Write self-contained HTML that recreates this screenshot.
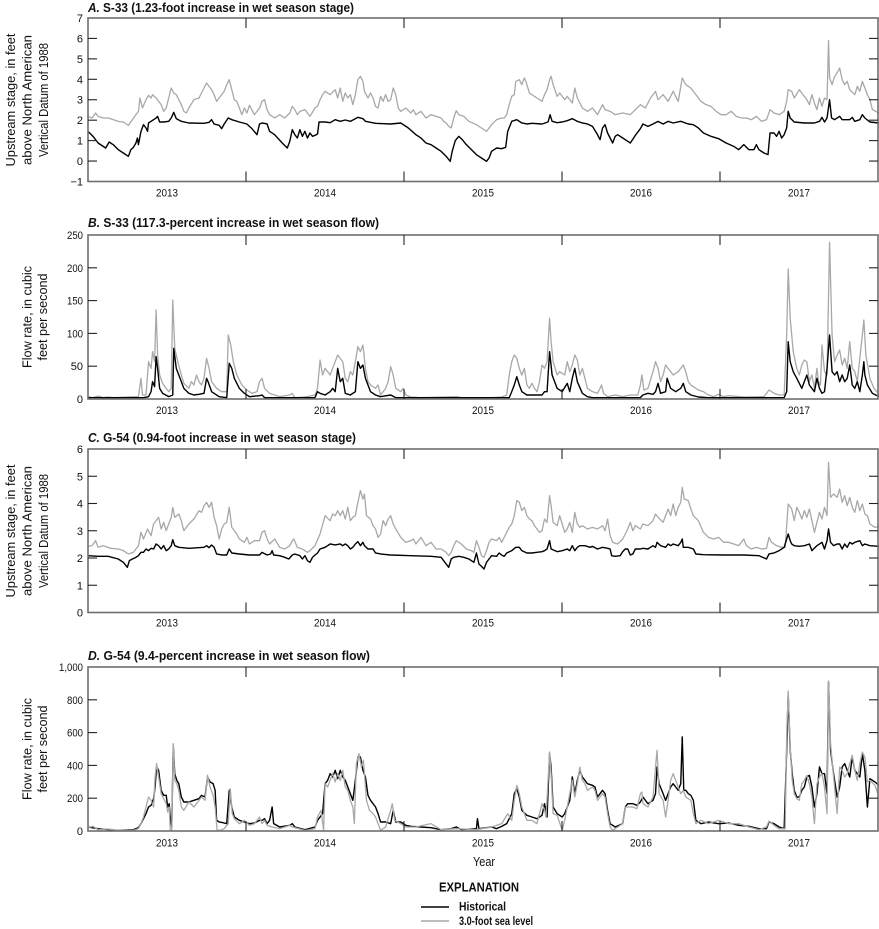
<!DOCTYPE html>
<html><head><meta charset="utf-8"><style>
html,body{margin:0;padding:0;background:#fff;}
svg{display:block;}
text{font-family:"Liberation Sans Narrow","Liberation Sans",sans-serif;fill:#111;}
.t{font-weight:bold;font-size:12.5px;}
.tk{font-size:11px;}
.ax{font-size:12.5px;}
.frame{fill:none;stroke:#6e6e6e;stroke-width:1.6;}
.tick{stroke:#222;stroke-width:1.1;}
.bl{fill:none;stroke:#000;stroke-width:1.4;stroke-linejoin:round;}
.gr{fill:none;stroke:#a8a8a8;stroke-width:1.3;stroke-linejoin:round;}
</style></head><body>
<svg width="879" height="929" viewBox="0 0 879 929" xmlns="http://www.w3.org/2000/svg">
<rect width="879" height="929" fill="#fff"/>

<!-- ===== Panel A ===== -->
<text class="t" x="88" y="12" textLength="266" lengthAdjust="spacingAndGlyphs"><tspan font-style="italic">A.</tspan> S-33 (1.23-foot increase in wet season stage)</text>
<g transform="translate(88,18) scale(0.50446,0.33333)">
<polyline class="gr" vector-effect="non-scaling-stroke" points="0,295 8,300 15,285 20,295 30,300 40,300 50,305 60,310 70,312 80,322 88,305 95,290 100,280 103,240 108,270 115,245 120,232 125,240 128,230 135,240 140,250 145,260 150,280 155,270 160,240 165,210 170,225 175,230 180,245 185,260 190,280 195,285 200,270 210,245 220,240 230,210 235,195 240,205 245,215 250,230 255,250 260,240 270,220 275,200 280,185 285,215 290,245 295,250 300,270 305,290 310,270 315,285 320,262 330,290 340,270 345,250 350,245 355,275 360,290 370,300 380,290 390,300 400,285 405,265 410,275 415,290 420,280 430,275 440,295 450,270 455,265 460,245 465,230 470,220 480,230 490,215 495,240 500,210 505,250 510,225 515,240 520,230 525,260 530,230 535,185 540,175 545,190 548,220 555,240 560,225 565,240 570,265 575,270 580,235 585,250 590,230 595,250 600,245 605,210 610,230 615,270 620,280 630,270 640,285 645,275 650,290 660,280 670,300 680,290 690,295 700,300 705,310 710,315 715,325 720,330 725,300 730,278 735,290 745,295 755,310 770,320 780,330 790,340 800,320 810,305 820,300 825,300 830,290 835,260 840,235 845,230 848,190 855,185 860,200 865,180 868,190 872,210 875,225 880,230 890,240 900,250 905,230 910,215 915,185 918,175 922,200 930,235 935,225 945,245 950,235 960,255 965,210 970,240 980,270 990,280 1000,270 1010,290 1020,260 1025,275 1035,280 1045,290 1060,285 1075,290 1085,275 1095,260 1105,270 1115,240 1125,220 1130,245 1140,230 1150,250 1160,220 1170,250 1178,180 1185,200 1195,210 1205,230 1215,250 1225,260 1235,265 1245,280 1255,290 1265,290 1275,280 1285,295 1295,300 1305,300 1315,305 1325,295 1335,310 1345,305 1352,275 1360,285 1370,290 1380,280 1385,250 1388,215 1395,220 1400,240 1410,215 1420,235 1425,245 1430,260 1435,230 1440,255 1445,275 1450,240 1455,265 1460,240 1465,245 1468,68 1470,180 1475,200 1480,175 1485,165 1490,150 1495,185 1500,200 1505,190 1510,215 1520,230 1525,205 1530,220 1535,190 1540,210 1545,230 1550,245 1555,275 1568,285"/>
<polyline class="bl" vector-effect="non-scaling-stroke" points="0,340 10,355 20,375 35,390 42,372 50,380 60,395 70,405 80,415 85,395 90,388 95,375 98,360 100,380 105,340 110,320 115,330 118,340 120,315 125,310 130,305 135,300 138,295 142,312 150,312 160,310 165,300 170,283 175,302 185,310 200,315 230,316 240,313 245,305 250,318 260,322 265,332 270,318 278,300 285,305 300,312 315,318 325,332 335,350 340,318 345,315 355,318 360,340 370,350 385,375 395,390 400,370 405,335 410,350 415,360 420,335 425,355 430,340 435,360 440,345 445,355 450,352 455,348 458,312 470,312 480,314 490,305 500,310 510,306 520,310 535,298 545,302 550,310 570,316 600,318 620,315 635,330 650,350 660,360 670,375 680,380 690,390 700,400 710,415 718,430 722,400 728,368 735,355 742,365 750,380 760,395 770,410 780,420 790,430 795,420 800,400 810,390 820,392 828,388 832,340 840,310 850,305 860,315 870,318 880,316 900,318 912,312 916,290 920,310 930,314 940,312 950,308 960,302 970,310 980,315 990,318 1000,325 1010,350 1015,365 1020,330 1025,320 1030,345 1040,375 1045,355 1050,350 1060,360 1070,370 1075,375 1085,352 1095,332 1100,318 1110,325 1120,318 1130,310 1140,318 1150,310 1160,315 1175,310 1190,318 1200,320 1210,330 1220,345 1235,355 1250,362 1265,375 1280,385 1290,395 1300,380 1310,395 1320,395 1325,380 1330,395 1340,405 1348,410 1352,345 1360,345 1365,355 1370,340 1375,360 1380,350 1385,330 1388,280 1392,300 1400,312 1420,315 1440,315 1450,310 1455,298 1460,312 1465,300 1470,245 1474,300 1480,305 1490,295 1495,305 1510,305 1515,298 1520,310 1530,305 1535,290 1540,300 1550,312 1568,315"/>
</g>
<rect class="frame" x="88" y="18" width="790" height="163.5"/>
<g class="tick">
<line x1="88" y1="161.06" x2="97" y2="161.06"/><line x1="88" y1="140.62" x2="97" y2="140.62"/><line x1="88" y1="120.18" x2="97" y2="120.18"/><line x1="88" y1="99.74" x2="97" y2="99.74"/><line x1="88" y1="79.3" x2="97" y2="79.3"/><line x1="88" y1="58.86" x2="97" y2="58.86"/><line x1="88" y1="38.42" x2="97" y2="38.42"/>
<line x1="869" y1="161.06" x2="878" y2="161.06"/><line x1="869" y1="140.62" x2="878" y2="140.62"/><line x1="869" y1="120.18" x2="878" y2="120.18"/><line x1="869" y1="99.74" x2="878" y2="99.74"/><line x1="869" y1="79.3" x2="878" y2="79.3"/><line x1="869" y1="58.86" x2="878" y2="58.86"/><line x1="869" y1="38.42" x2="878" y2="38.42"/>
<line x1="246" y1="18" x2="246" y2="28"/><line x1="404" y1="18" x2="404" y2="28"/><line x1="562" y1="18" x2="562" y2="28"/><line x1="720" y1="18" x2="720" y2="28"/>
<line x1="246" y1="171.5" x2="246" y2="181.5"/><line x1="404" y1="171.5" x2="404" y2="181.5"/><line x1="562" y1="171.5" x2="562" y2="181.5"/><line x1="720" y1="171.5" x2="720" y2="181.5"/>
</g>
<g class="tk" text-anchor="end">
<text x="83" y="185.5">−1</text><text x="83" y="165">0</text><text x="83" y="144.6">1</text><text x="83" y="124.2">2</text><text x="83" y="103.7">3</text><text x="83" y="83.3">4</text><text x="83" y="62.9">5</text><text x="83" y="42.4">6</text><text x="83" y="22">7</text>
</g>
<g class="tk" text-anchor="middle">
<text x="167" y="196.5" textLength="22" lengthAdjust="spacingAndGlyphs">2013</text><text x="325" y="196.5" textLength="22" lengthAdjust="spacingAndGlyphs">2014</text><text x="483" y="196.5" textLength="22" lengthAdjust="spacingAndGlyphs">2015</text><text x="641" y="196.5" textLength="22" lengthAdjust="spacingAndGlyphs">2016</text><text x="799" y="196.5" textLength="22" lengthAdjust="spacingAndGlyphs">2017</text>
</g>
<g class="ax" text-anchor="middle">
<text transform="translate(15,100) rotate(-90)" textLength="133" lengthAdjust="spacingAndGlyphs">Upstream stage, in feet</text>
<text transform="translate(31.5,100) rotate(-90)" textLength="130" lengthAdjust="spacingAndGlyphs">above North American</text>
<text transform="translate(48,100) rotate(-90)" textLength="114" lengthAdjust="spacingAndGlyphs">Vertical Datum of 1988</text>
</g>

<!-- ===== Panel B ===== -->
<text class="t" x="88" y="227" textLength="291" lengthAdjust="spacingAndGlyphs"><tspan font-style="italic">B.</tspan> S-33 (117.3-percent increase in wet season flow)</text>
<g transform="translate(88,235) scale(0.50446,0.33333)">
<polyline class="gr" vector-effect="non-scaling-stroke" points="0,485 10,488 20,483 30,488 40,486 50,488 80,486 100,485 105,430 108,480 115,480 120,380 125,400 128,350 132,380 135,225 138,360 142,420 148,445 155,460 160,470 165,460 168,195 172,340 178,380 185,420 190,445 200,460 205,440 210,450 215,420 220,440 225,450 230,430 235,370 240,400 245,440 255,460 265,470 275,470 278,300 283,330 288,380 295,420 305,450 315,465 325,475 335,470 340,440 345,430 350,460 360,475 380,485 400,480 405,475 410,488 430,486 440,483 450,480 455,460 460,375 465,420 470,400 475,410 480,420 485,400 490,380 495,360 500,370 505,380 510,430 515,440 520,410 525,420 530,380 535,335 540,350 545,330 550,400 555,440 560,450 570,460 575,450 580,480 585,470 590,460 595,440 600,395 605,420 610,460 620,470 625,460 630,480 640,486 660,488 730,485 740,488 800,488 820,486 830,480 835,420 840,380 845,360 850,370 855,400 860,420 865,400 870,450 875,460 880,445 885,460 890,470 895,440 900,390 905,400 910,380 915,250 918,320 922,380 930,420 935,410 945,420 950,380 955,410 960,390 965,360 970,375 975,420 980,400 985,430 990,460 1000,470 1010,475 1015,460 1018,450 1022,475 1030,485 1045,480 1060,485 1075,480 1090,480 1095,450 1098,420 1102,465 1110,460 1115,435 1120,410 1125,380 1130,400 1135,440 1140,420 1145,390 1150,400 1155,410 1160,420 1170,410 1175,400 1180,390 1185,410 1190,440 1195,450 1200,455 1210,465 1220,470 1230,480 1240,485 1250,478 1260,485 1270,482 1300,486 1340,485 1350,465 1355,470 1360,475 1370,480 1380,480 1385,300 1388,102 1392,250 1398,350 1405,400 1410,420 1415,390 1420,375 1425,380 1430,440 1435,420 1440,460 1445,400 1448,440 1452,450 1455,330 1460,410 1465,420 1470,22 1475,300 1480,380 1485,360 1490,345 1495,390 1500,370 1505,400 1510,320 1515,400 1520,410 1525,440 1530,370 1535,300 1538,255 1542,360 1550,430 1558,460 1568,478"/>
<polyline class="bl" vector-effect="non-scaling-stroke" points="0,488 110,488 120,485 125,470 128,440 132,455 135,365 138,400 142,460 148,475 160,485 168,480 170,340 175,400 180,420 185,440 190,460 200,475 210,480 220,478 230,475 235,430 238,440 245,470 260,485 275,488 280,385 285,400 290,430 300,460 310,475 320,485 340,482 345,480 350,488 450,488 455,470 460,475 470,480 480,470 485,460 490,470 495,400 500,440 505,430 510,475 520,480 530,470 535,380 540,400 545,390 550,430 560,470 570,480 580,485 600,480 610,488 835,488 840,470 845,450 850,425 855,450 860,470 870,480 900,480 905,470 910,470 915,350 920,420 930,460 940,470 950,445 955,470 960,430 965,400 970,440 980,475 990,485 1000,488 1095,488 1100,480 1110,475 1120,478 1125,470 1130,445 1135,475 1145,470 1148,430 1155,460 1165,470 1175,460 1180,445 1185,470 1195,480 1210,486 1230,488 1380,488 1385,470 1388,320 1392,380 1398,410 1405,430 1415,460 1420,440 1425,420 1430,450 1440,470 1445,430 1450,460 1455,475 1460,470 1465,400 1470,300 1475,410 1480,420 1485,410 1490,440 1495,420 1500,440 1505,430 1510,390 1515,450 1520,460 1525,440 1530,470 1535,420 1538,380 1540,420 1545,450 1555,475 1568,485"/>
</g>
<rect class="frame" x="88" y="235" width="790" height="164"/>
<g class="tick">
<line x1="88" y1="366.2" x2="97" y2="366.2"/><line x1="88" y1="333.4" x2="97" y2="333.4"/><line x1="88" y1="300.6" x2="97" y2="300.6"/><line x1="88" y1="267.8" x2="97" y2="267.8"/>
<line x1="869" y1="366.2" x2="878" y2="366.2"/><line x1="869" y1="333.4" x2="878" y2="333.4"/><line x1="869" y1="300.6" x2="878" y2="300.6"/><line x1="869" y1="267.8" x2="878" y2="267.8"/>
<line x1="246" y1="235" x2="246" y2="245"/><line x1="404" y1="235" x2="404" y2="245"/><line x1="562" y1="235" x2="562" y2="245"/><line x1="720" y1="235" x2="720" y2="245"/>
<line x1="246" y1="389" x2="246" y2="399"/><line x1="404" y1="389" x2="404" y2="399"/><line x1="562" y1="389" x2="562" y2="399"/><line x1="720" y1="389" x2="720" y2="399"/>
</g>
<g class="tk" text-anchor="end">
<text x="83" y="403">0</text><text x="83" y="370.2">50</text><text x="83" y="337.4" textLength="16" lengthAdjust="spacingAndGlyphs">100</text><text x="83" y="304.6" textLength="16" lengthAdjust="spacingAndGlyphs">150</text><text x="83" y="271.8" textLength="16" lengthAdjust="spacingAndGlyphs">200</text><text x="83" y="239" textLength="16" lengthAdjust="spacingAndGlyphs">250</text>
</g>
<g class="tk" text-anchor="middle">
<text x="167" y="414" textLength="22" lengthAdjust="spacingAndGlyphs">2013</text><text x="325" y="414" textLength="22" lengthAdjust="spacingAndGlyphs">2014</text><text x="483" y="414" textLength="22" lengthAdjust="spacingAndGlyphs">2015</text><text x="641" y="414" textLength="22" lengthAdjust="spacingAndGlyphs">2016</text><text x="799" y="414" textLength="22" lengthAdjust="spacingAndGlyphs">2017</text>
</g>
<g class="ax" text-anchor="middle">
<text transform="translate(31.5,317) rotate(-90)" textLength="102" lengthAdjust="spacingAndGlyphs">Flow rate, in cubic</text>
<text transform="translate(47,317) rotate(-90)" textLength="87" lengthAdjust="spacingAndGlyphs">feet per second</text>
</g>

<!-- ===== Panel C ===== -->
<text class="t" x="88" y="442" textLength="268" lengthAdjust="spacingAndGlyphs"><tspan font-style="italic">C.</tspan> G-54 (0.94-foot increase in wet season stage)</text>
<g transform="translate(88,449) scale(0.50446,0.33333)">
<polyline class="gr" vector-effect="non-scaling-stroke" points="0,292 8,290 15,275 20,295 30,290 45,298 60,300 70,305 80,315 90,310 100,290 105,250 110,270 118,240 125,260 130,225 135,215 140,205 145,240 150,220 155,245 160,225 165,205 168,175 172,205 180,195 185,215 190,245 200,225 210,210 220,185 225,190 230,170 235,160 240,175 245,160 250,205 255,230 260,270 265,240 270,225 275,220 280,175 285,235 290,245 295,255 300,270 310,280 315,265 320,285 330,275 340,275 345,250 350,245 355,270 360,285 370,270 380,295 390,300 400,290 405,275 408,270 415,295 425,300 435,310 440,305 450,290 460,255 470,200 480,215 485,195 490,200 495,185 500,200 505,185 510,210 515,175 520,215 525,205 530,200 535,160 540,125 545,150 548,135 552,200 560,210 565,230 570,240 575,265 580,255 585,215 590,230 595,210 600,200 605,225 610,240 620,265 630,280 640,275 645,270 650,285 660,265 670,290 680,280 690,300 700,300 710,310 715,320 720,310 725,290 730,275 740,285 750,300 760,305 765,310 770,275 775,295 780,320 785,325 790,305 795,280 800,270 810,275 815,265 820,280 830,250 835,235 840,225 845,200 850,155 855,160 860,185 865,175 870,200 875,210 880,215 885,230 890,240 895,250 900,245 905,210 910,220 915,140 918,170 922,220 930,230 935,200 940,225 945,250 950,240 955,220 960,250 965,190 970,225 975,235 980,230 990,240 1000,235 1010,240 1020,230 1025,245 1030,210 1035,260 1040,280 1050,285 1060,270 1070,240 1075,220 1080,245 1085,230 1095,240 1100,225 1110,230 1120,215 1125,195 1130,205 1140,220 1145,200 1150,180 1155,200 1160,165 1165,200 1170,175 1175,160 1178,115 1182,150 1190,155 1195,180 1200,200 1210,215 1220,250 1230,265 1240,270 1250,265 1260,280 1270,280 1280,285 1290,290 1300,270 1305,290 1315,300 1325,295 1335,300 1345,298 1350,265 1355,280 1365,290 1375,295 1382,295 1385,230 1388,165 1395,180 1400,215 1405,175 1410,190 1415,210 1420,185 1425,205 1430,180 1435,215 1440,250 1445,220 1450,190 1455,210 1460,175 1465,200 1468,40 1472,145 1478,135 1485,145 1490,120 1495,160 1500,140 1505,170 1510,145 1515,175 1520,190 1525,155 1530,185 1535,165 1540,195 1545,200 1550,225 1560,235 1568,232"/>
<polyline class="bl" vector-effect="non-scaling-stroke" points="0,320 20,322 40,322 60,330 70,340 78,355 82,335 88,330 95,325 100,320 105,310 110,310 115,300 120,305 125,298 130,300 135,285 140,290 145,300 150,290 155,305 160,300 165,290 168,272 172,290 180,295 200,298 230,295 235,290 240,296 245,288 250,295 255,315 265,318 275,318 280,300 285,312 300,315 320,318 340,318 345,310 355,318 362,315 365,305 368,318 380,320 390,325 398,330 405,318 410,315 420,320 425,330 430,320 435,335 440,340 445,325 450,318 455,312 460,300 470,295 475,290 480,285 490,288 500,285 505,290 510,285 515,290 520,300 525,295 530,285 535,278 540,290 545,280 548,290 555,300 565,300 570,312 580,315 600,318 640,320 680,322 700,325 705,335 710,345 715,355 720,330 725,325 735,322 745,325 755,330 760,335 765,340 770,312 775,345 780,352 785,360 790,340 795,330 800,320 810,322 815,312 820,318 825,322 830,312 840,305 848,295 855,295 860,305 870,312 880,312 890,310 900,308 905,305 910,300 915,275 918,300 930,308 940,305 950,300 955,305 960,290 965,305 970,295 975,290 985,290 995,295 1000,292 1010,300 1020,295 1030,298 1035,300 1038,320 1045,322 1055,320 1060,308 1065,300 1070,300 1075,318 1080,315 1085,300 1095,300 1100,298 1110,300 1115,295 1120,290 1125,295 1128,280 1135,290 1145,295 1150,285 1155,290 1160,285 1170,290 1175,280 1178,270 1180,295 1190,295 1200,300 1205,315 1220,317 1260,318 1300,318 1330,320 1345,330 1350,315 1360,312 1370,305 1380,295 1385,270 1388,255 1392,275 1395,285 1400,290 1410,292 1420,290 1430,285 1435,305 1445,290 1455,280 1460,300 1465,275 1468,240 1472,280 1478,290 1485,285 1490,285 1495,300 1500,285 1505,295 1510,280 1515,285 1520,280 1530,275 1535,290 1540,285 1550,290 1568,292"/>
</g>
<rect class="frame" x="88" y="449" width="790" height="163.5"/>
<g class="tick">
<line x1="88" y1="585.25" x2="97" y2="585.25"/><line x1="88" y1="558" x2="97" y2="558"/><line x1="88" y1="530.75" x2="97" y2="530.75"/><line x1="88" y1="503.5" x2="97" y2="503.5"/><line x1="88" y1="476.25" x2="97" y2="476.25"/>
<line x1="869" y1="585.25" x2="878" y2="585.25"/><line x1="869" y1="558" x2="878" y2="558"/><line x1="869" y1="530.75" x2="878" y2="530.75"/><line x1="869" y1="503.5" x2="878" y2="503.5"/><line x1="869" y1="476.25" x2="878" y2="476.25"/>
<line x1="246" y1="449" x2="246" y2="459"/><line x1="404" y1="449" x2="404" y2="459"/><line x1="562" y1="449" x2="562" y2="459"/><line x1="720" y1="449" x2="720" y2="459"/>
<line x1="246" y1="602.5" x2="246" y2="612.5"/><line x1="404" y1="602.5" x2="404" y2="612.5"/><line x1="562" y1="602.5" x2="562" y2="612.5"/><line x1="720" y1="602.5" x2="720" y2="612.5"/>
</g>
<g class="tk" text-anchor="end">
<text x="83" y="616.5">0</text><text x="83" y="589.25">1</text><text x="83" y="562">2</text><text x="83" y="534.75">3</text><text x="83" y="507.5">4</text><text x="83" y="480.25">5</text><text x="83" y="453">6</text>
</g>
<g class="tk" text-anchor="middle">
<text x="167" y="626.5" textLength="22" lengthAdjust="spacingAndGlyphs">2013</text><text x="325" y="626.5" textLength="22" lengthAdjust="spacingAndGlyphs">2014</text><text x="483" y="626.5" textLength="22" lengthAdjust="spacingAndGlyphs">2015</text><text x="641" y="626.5" textLength="22" lengthAdjust="spacingAndGlyphs">2016</text><text x="799" y="626.5" textLength="22" lengthAdjust="spacingAndGlyphs">2017</text>
</g>
<g class="ax" text-anchor="middle">
<text transform="translate(15,531) rotate(-90)" textLength="133" lengthAdjust="spacingAndGlyphs">Upstream stage, in feet</text>
<text transform="translate(31.5,531) rotate(-90)" textLength="130" lengthAdjust="spacingAndGlyphs">above North American</text>
<text transform="translate(48,531) rotate(-90)" textLength="114" lengthAdjust="spacingAndGlyphs">Vertical Datum of 1988</text>
</g>

<!-- ===== Panel D ===== -->
<text class="t" x="88" y="660" textLength="282" lengthAdjust="spacingAndGlyphs"><tspan font-style="italic">D.</tspan> G-54 (9.4-percent increase in wet season flow)</text>
<g transform="translate(88,667) scale(0.50446,0.33333)">
<polyline class="bl" vector-effect="non-scaling-stroke" points="0,480 20,485 40,488 60,490 90,488 100,482 105,470 110,455 115,440 120,420 125,415 130,395 133,360 136,300 140,310 145,370 150,385 155,385 158,420 161,410 163,450 166,480 169,235 172,320 176,340 180,350 185,390 190,405 200,405 210,400 220,395 225,385 232,390 237,330 242,345 248,350 252,370 255,460 260,465 270,468 275,470 280,370 285,420 290,450 300,460 310,465 320,470 330,468 340,460 345,460 350,455 355,470 360,460 365,420 368,470 380,480 400,475 405,470 410,480 430,488 450,480 455,460 465,440 470,350 475,340 480,320 485,330 490,310 495,335 500,310 505,330 510,340 515,360 520,380 525,400 530,340 535,270 540,270 545,310 550,330 555,385 560,400 565,410 570,420 575,440 580,465 590,465 600,470 605,430 610,465 620,465 630,475 640,478 660,480 680,482 700,488 720,485 730,480 740,488 770,485 772,455 775,485 800,480 810,485 820,478 830,470 840,440 845,380 850,365 855,390 860,430 870,445 880,450 890,455 900,445 905,410 910,450 915,260 918,300 922,420 930,440 940,450 945,440 950,420 955,400 960,330 965,380 970,340 975,310 980,330 985,340 990,350 1000,355 1005,360 1010,390 1015,380 1020,370 1025,380 1030,430 1035,470 1040,475 1045,480 1060,470 1065,420 1070,410 1080,410 1088,415 1095,405 1100,390 1110,410 1120,400 1125,380 1128,300 1132,350 1140,380 1145,400 1150,380 1155,360 1160,350 1165,360 1170,370 1175,350 1178,210 1181,370 1185,370 1190,380 1195,385 1200,400 1205,460 1215,470 1230,465 1250,470 1270,468 1290,475 1310,478 1330,485 1345,485 1350,465 1360,470 1370,480 1380,485 1385,250 1388,80 1392,250 1396,320 1400,370 1405,390 1410,390 1415,370 1420,360 1425,330 1430,325 1435,360 1440,420 1445,380 1450,300 1455,320 1460,320 1465,380 1468,45 1472,250 1478,320 1485,390 1490,360 1495,300 1500,290 1505,310 1510,330 1515,270 1520,310 1525,320 1530,330 1535,260 1540,310 1545,420 1550,335 1560,345 1568,355"/>
<polyline class="gr" vector-effect="non-scaling-stroke" points="0,482 10,478 20,488 40,486 60,490 90,490 100,485 105,470 110,450 115,420 120,390 125,400 130,420 133,330 136,290 140,330 145,380 150,395 155,410 158,435 161,420 163,490 166,490 169,230 172,340 176,350 180,370 185,420 190,430 200,405 210,420 220,400 225,390 232,400 237,325 242,360 248,385 252,420 256,490 262,490 270,485 278,470 282,365 286,440 290,455 300,470 310,460 320,475 330,470 340,450 345,470 350,460 355,475 365,480 380,485 400,475 405,480 430,490 450,485 455,450 462,430 467,490 470,350 475,360 480,340 485,320 490,345 495,320 500,340 505,310 510,360 515,370 520,400 525,420 528,470 532,290 537,260 542,300 546,280 552,400 558,430 565,440 570,450 575,470 580,490 590,480 600,430 603,410 608,460 620,470 630,480 650,480 680,470 700,488 730,485 770,488 800,480 820,470 832,440 840,460 845,400 850,355 855,380 860,420 870,460 880,460 890,470 900,410 905,430 908,450 915,255 918,320 922,440 930,445 940,490 945,460 950,420 955,380 960,340 965,390 970,350 975,300 980,340 985,350 990,370 1000,360 1005,370 1010,400 1015,390 1020,380 1025,390 1030,440 1035,480 1040,490 1050,480 1060,470 1065,420 1070,420 1080,420 1088,425 1095,380 1098,375 1100,410 1110,420 1120,390 1125,300 1128,250 1132,380 1140,400 1145,450 1150,400 1155,340 1160,320 1165,340 1170,360 1175,380 1180,370 1185,390 1190,395 1195,400 1200,440 1205,470 1215,460 1230,470 1250,460 1270,470 1290,470 1310,480 1330,488 1345,480 1350,462 1360,475 1370,485 1382,485 1385,200 1388,72 1392,240 1396,340 1400,380 1405,395 1410,400 1415,350 1420,340 1425,325 1430,350 1435,390 1440,470 1445,350 1450,330 1455,320 1460,360 1465,440 1468,42 1472,230 1478,330 1485,440 1490,300 1495,310 1500,330 1505,320 1510,290 1515,265 1520,310 1525,340 1530,290 1535,255 1540,270 1545,345 1550,340 1560,355 1568,390"/>
</g>
<rect class="frame" x="88" y="667" width="790" height="164"/>
<g class="tick">
<line x1="88" y1="798.2" x2="97" y2="798.2"/><line x1="88" y1="765.4" x2="97" y2="765.4"/><line x1="88" y1="732.6" x2="97" y2="732.6"/><line x1="88" y1="699.8" x2="97" y2="699.8"/>
<line x1="869" y1="798.2" x2="878" y2="798.2"/><line x1="869" y1="765.4" x2="878" y2="765.4"/><line x1="869" y1="732.6" x2="878" y2="732.6"/><line x1="869" y1="699.8" x2="878" y2="699.8"/>
<line x1="246" y1="667" x2="246" y2="677"/><line x1="404" y1="667" x2="404" y2="677"/><line x1="562" y1="667" x2="562" y2="677"/><line x1="720" y1="667" x2="720" y2="677"/>
<line x1="246" y1="821" x2="246" y2="831"/><line x1="404" y1="821" x2="404" y2="831"/><line x1="562" y1="821" x2="562" y2="831"/><line x1="720" y1="821" x2="720" y2="831"/>
</g>
<g class="tk" text-anchor="end">
<text x="83" y="835">0</text><text x="83" y="802.2" textLength="16" lengthAdjust="spacingAndGlyphs">200</text><text x="83" y="769.4" textLength="16" lengthAdjust="spacingAndGlyphs">400</text><text x="83" y="736.6" textLength="16" lengthAdjust="spacingAndGlyphs">600</text><text x="83" y="703.8" textLength="16" lengthAdjust="spacingAndGlyphs">800</text><text x="83" y="671" textLength="24" lengthAdjust="spacingAndGlyphs">1,000</text>
</g>
<g class="tk" text-anchor="middle">
<text x="167" y="846.5" textLength="22" lengthAdjust="spacingAndGlyphs">2013</text><text x="325" y="846.5" textLength="22" lengthAdjust="spacingAndGlyphs">2014</text><text x="483" y="846.5" textLength="22" lengthAdjust="spacingAndGlyphs">2015</text><text x="641" y="846.5" textLength="22" lengthAdjust="spacingAndGlyphs">2016</text><text x="799" y="846.5" textLength="22" lengthAdjust="spacingAndGlyphs">2017</text>
</g>
<g class="ax" text-anchor="middle">
<text transform="translate(31.5,749) rotate(-90)" textLength="102" lengthAdjust="spacingAndGlyphs">Flow rate, in cubic</text>
<text transform="translate(47,749) rotate(-90)" textLength="87" lengthAdjust="spacingAndGlyphs">feet per second</text>
</g>

<!-- X title and legend -->
<text class="ax" x="484" y="866" text-anchor="middle" textLength="22" lengthAdjust="spacingAndGlyphs">Year</text>
<text x="439" y="891.5" font-weight="bold" font-size="12.5" textLength="80" lengthAdjust="spacingAndGlyphs">EXPLANATION</text>
<line x1="421" y1="907" x2="449" y2="907" stroke="#000" stroke-width="1.6"/>
<text x="459" y="910.5" font-weight="bold" font-size="11.5" textLength="47" lengthAdjust="spacingAndGlyphs">Historical</text>
<line x1="421" y1="921" x2="449" y2="921" stroke="#a8a8a8" stroke-width="1.6"/>
<text x="459" y="925" font-weight="bold" font-size="11.5" textLength="74" lengthAdjust="spacingAndGlyphs">3.0-foot sea level</text>
</svg>
</body></html>
